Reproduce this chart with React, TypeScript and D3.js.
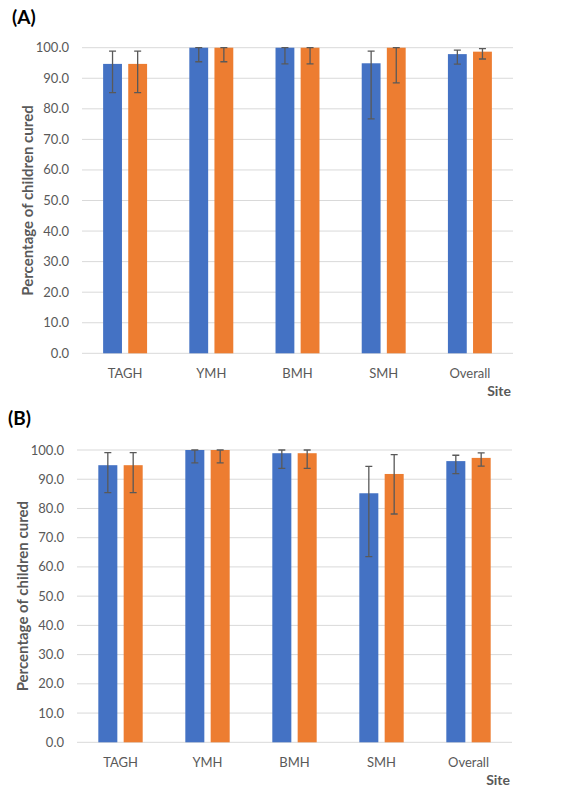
import React, { useEffect, useRef } from 'react';
import * as d3 from 'd3';

const sites = ['TAGH', 'YMH', 'BMH', 'SMH', 'Overall'];
const yTicks = [0, 10, 20, 30, 40, 50, 60, 70, 80, 90, 100];

// panel A
const aBlue = [94.7, 100, 100, 94.9, 97.9];
const aBlueLow = [85.3, 95.4, 94.7, 76.7, 94.6];
const aBlueHigh = [98.9, 100, 100, 98.9, 99.2];
const aOrange = [94.7, 100, 100, 100, 98.7];
const aOrangeLow = [85.3, 95.4, 94.7, 88.5, 96.3];
const aOrangeHigh = [98.9, 100, 100, 100, 99.7];

// panel B
const bBlue = [94.8, 100, 98.9, 85.2, 96.2];
const bBlueLow = [85.4, 95.6, 93.7, 63.5, 91.9];
const bBlueHigh = [99.1, 100, 100, 94.4, 98.2];
const bOrange = [94.8, 100, 98.9, 91.8, 97.3];
const bOrangeLow = [85.4, 95.6, 93.7, 78.1, 94.5];
const bOrangeHigh = [99.1, 100, 100, 98.4, 99.0];

const BLUE = '#4472C4';
const ORANGE = '#ED7D31';
const FONT = 'Lato, "Open Sans", sans-serif';

type Series = { key: string; color: string; values: number[]; low: number[]; high: number[] };

type PanelProps = {
  label: string;
  labelY: number;
  labelX: number;
  left: number;
  right: number;
  top: number;
  bottom: number;
  series: Series[];
};

function Panel({ label, labelX, labelY, left, right, top, bottom, series }: PanelProps) {
  const ref = useRef<SVGGElement>(null);

  useEffect(() => {
    const g = d3.select(ref.current);
    g.selectAll('*').remove();

    const x = d3.scaleBand().domain(sites).range([left, right]).paddingInner(0.49).paddingOuter(0.245);
    const xs = d3.scaleBand().domain(series.map(s => s.key)).range([0, x.bandwidth()]).paddingInner(0.25);
    const y = d3.scaleLinear().domain([0, 100]).range([bottom, top]);

    // gridlines
    g.selectAll('.grid')
      .data(yTicks)
      .enter()
      .append('line')
      .attr('x1', left)
      .attr('x2', right)
      .attr('y1', d => y(d))
      .attr('y2', d => y(d))
      .attr('stroke', '#d9d9d9')
      .attr('stroke-width', 1);

    g.selectAll('.tick')
      .data(yTicks)
      .enter()
      .append('text')
      .attr('x', left - 13)
      .attr('y', d => y(d))
      .attr('dy', '0.35em')
      .attr('text-anchor', 'end')
      .attr('font-family', FONT)
      .attr('font-size', 13)
      .attr('fill', '#595959')
      .text(d => d.toFixed(1));

    series.forEach(s => {
      const sg = g.append('g');
      sg.selectAll('rect')
        .data(sites)
        .enter()
        .append('rect')
        .attr('x', d => x(d)! + xs(s.key)!)
        .attr('y', (d, i) => y(s.values[i]))
        .attr('width', xs.bandwidth())
        .attr('height', (d, i) => y(0) - y(s.values[i]))
        .attr('fill', s.color);

      const cx = (d: string) => x(d)! + xs(s.key)! + xs.bandwidth() / 2;
      sg.selectAll('.err')
        .data(sites)
        .enter()
        .append('path')
        .attr('d', (d, i) => {
          const c = cx(d);
          const lo = y(s.low[i]);
          const hi = y(s.high[i]);
          return `M${c},${lo}V${hi}M${c - 3.5},${lo}H${c + 3.5}M${c - 3.5},${hi}H${c + 3.5}`;
        })
        .attr('fill', 'none')
        .attr('stroke', '#595959')
        .attr('stroke-width', 1.3);
    });

    g.selectAll('.cat')
      .data(sites)
      .enter()
      .append('text')
      .attr('x', d => x(d)! + x.bandwidth() / 2)
      .attr('y', bottom + 20)
      .attr('dy', '0.35em')
      .attr('text-anchor', 'middle')
      .attr('font-family', FONT)
      .attr('font-size', 13)
      .attr('fill', '#595959')
      .text(d => d);

    g.append('text')
      .attr('x', right - 2)
      .attr('y', bottom + 38)
      .attr('dy', '0.35em')
      .attr('text-anchor', 'end')
      .attr('font-family', FONT)
      .attr('font-size', 14)
      .attr('font-weight', 'bold')
      .attr('fill', '#595959')
      .text('Site');

    g.append('text')
      .attr('transform', `translate(${left - 54},${(top + bottom) / 2}) rotate(-90)`)
      .attr('dy', '0.35em')
      .attr('text-anchor', 'middle')
      .attr('font-family', FONT)
      .attr('font-size', 15)
      .attr('font-weight', 'bold')
      .attr('fill', '#595959')
      .text('Percentage of children cured');

    g.append('text')
      .attr('x', labelX)
      .attr('y', labelY)
      .attr('dy', '0.35em')
      .attr('font-family', FONT)
      .attr('font-size', 19)
      .attr('font-weight', 'bold')
      .attr('fill', '#000')
      .text(label);
  }, []);

  return <g ref={ref}></g>;
}

export default function App() {
  return (
    <svg width={567} height={792} style={{ position: 'absolute', left: 0, top: 0, background: '#fff' }}>
      <Panel
        label="(A)"
        labelX={12}
        labelY={17}
        left={82}
        right={513}
        top={47.7}
        bottom={353.3}
        series={[
          { key: 'b', color: BLUE, values: aBlue, low: aBlueLow, high: aBlueHigh },
          { key: 'o', color: ORANGE, values: aOrange, low: aOrangeLow, high: aOrangeHigh },
        ]}
      />
      <Panel
        label="(B)"
        labelX={8}
        labelY={418}
        left={77}
        right={512}
        top={450}
        bottom={742.3}
        series={[
          { key: 'b', color: BLUE, values: bBlue, low: bBlueLow, high: bBlueHigh },
          { key: 'o', color: ORANGE, values: bOrange, low: bOrangeLow, high: bOrangeHigh },
        ]}
      />
    </svg>
  );
}
